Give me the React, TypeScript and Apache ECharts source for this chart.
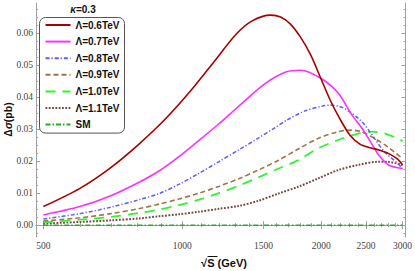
import React, { useEffect, useRef } from "react";
import * as echarts from "echarts";

// sqrt(S) in GeV and delta sigma in pb
const S_06 = [500, 600, 700, 808, 921, 1046, 1180, 1305, 1417, 1553, 1633, 1715, 1802, 1894, 1990, 2091, 2197, 2309, 2426, 2550, 2679, 2815, 2928, 3000];
const V_06 = [0.0058, 0.0115, 0.018, 0.0255, 0.0333, 0.0422, 0.0516, 0.0595, 0.0638, 0.0656, 0.065, 0.0628, 0.0588, 0.0534, 0.0463, 0.0391, 0.0331, 0.0281, 0.0253, 0.0242, 0.0234, 0.0222, 0.0206, 0.0188];

const S_07 = [500, 600, 700, 808, 892, 985, 1087, 1199, 1268, 1370, 1514, 1681, 1804, 2000, 2178, 2327, 2453, 2558, 2664, 2799, 3000];
const V_07 = [0.0032, 0.0058, 0.0092, 0.0135, 0.017, 0.0215, 0.0265, 0.0316, 0.0347, 0.039, 0.0443, 0.0479, 0.0484, 0.0458, 0.0412, 0.0346, 0.0302, 0.026, 0.0219, 0.0188, 0.0177];

const S_08 = [500, 600, 700, 808, 892, 985, 1087, 1199, 1325, 1461, 1590, 1684, 1844, 2000, 2090, 2200, 2300, 2400, 2485, 2609, 2741, 2903, 3000];
const V_08 = [0.0019, 0.0036, 0.0056, 0.008, 0.0099, 0.0128, 0.0162, 0.0198, 0.0235, 0.0272, 0.0305, 0.0328, 0.0357, 0.0371, 0.0375, 0.037, 0.0355, 0.0335, 0.0313, 0.0271, 0.0229, 0.0198, 0.0177];

const S_09 = [500, 600, 700, 808, 892, 985, 1087, 1199, 1325, 1461, 1617, 1784, 1970, 2175, 2306, 2441, 2609, 2785, 3000];
const V_09 = [0.0013, 0.0023, 0.0036, 0.0052, 0.0066, 0.0082, 0.01, 0.0121, 0.0145, 0.0172, 0.0203, 0.0238, 0.0271, 0.0292, 0.0297, 0.0292, 0.0271, 0.0245, 0.0208];

const S_10 = [500, 600, 700, 808, 892, 985, 1087, 1199, 1325, 1461, 1617, 1784, 1970, 2175, 2362, 2567, 2741, 2976, 3000];
const V_10 = [0.0009, 0.0017, 0.0026, 0.0038, 0.0049, 0.0063, 0.008, 0.01, 0.0123, 0.0149, 0.0177, 0.0203, 0.024, 0.0266, 0.0283, 0.0292, 0.0287, 0.0266, 0.0262];

const S_11 = [500, 600, 700, 808, 892, 985, 1087, 1199, 1325, 1461, 1617, 1784, 1970, 2175, 2402, 2652, 2785, 3000];
const V_11 = [0.0005, 0.001, 0.0015, 0.0021, 0.0028, 0.0034, 0.0042, 0.0051, 0.006, 0.0076, 0.0099, 0.012, 0.0146, 0.0172, 0.0188, 0.0198, 0.0198, 0.0188];

const S_SM = [500, 3000];
const V_SM = [0.0, 0.0];

const NAMES = ["Λ=0.6TeV", "Λ=0.7TeV", "Λ=0.8TeV", "Λ=0.9TeV", "Λ=1.0TeV", "Λ=1.1TeV", "SM"];

// tick labels
const X_MAJOR = [500, 1000, 1500, 2000, 2500, 3000];
const X_MINOR = [600, 700, 800, 900, 1100, 1200, 1300, 1400, 1600, 1700, 1800, 1900, 2100, 2200, 2300, 2400, 2600, 2700, 2800, 2900];
const Y_MAJOR = [0, 0.01, 0.02, 0.03, 0.04, 0.05, 0.06];
const Y_MINOR = [-0.0025, 0.0025, 0.005, 0.0075, 0.0125, 0.015, 0.0175, 0.0225, 0.025, 0.0275, 0.0325, 0.035, 0.0375, 0.0425, 0.045, 0.0475, 0.0525, 0.055, 0.0575, 0.0625, 0.065, 0.0675];

const X_MIN = 482;
const X_MAX = 3045;
const Y_MIN = -0.0037;
const Y_MAX = 0.0694;

function pairs(s: number[], v: number[]) {
  return s.map((x, i) => [x, v[i]]);
}

export default function App() {
  const ref = useRef<HTMLDivElement>(null);
  useEffect(() => {
    const chart = echarts.init(ref.current!, null, { renderer: "svg" });
    const frame = "#a0a0a0";
    const labelFont = {
      fontFamily: "Liberation Serif",
      fontSize: 9.5,
      color: "#444",
    };
    const xAx = (pos: string, ticks: number[], len: number, label: boolean, line: boolean) => ({
      type: "log",
      logBase: 10,
      min: X_MIN,
      max: X_MAX,
      position: pos,
      axisLine: { show: line, lineStyle: { color: frame, width: 1 } },
      axisTick: { show: true, inside: true, length: len, customValues: ticks, lineStyle: { color: frame, width: 1 } },
      axisLabel: label
        ? { show: true, customValues: ticks, margin: 4, formatter: (v: number) => String(Math.round(v)), ...labelFont }
        : { show: false },
      splitLine: { show: false },
      minorTick: { show: false },
    });
    const yAx = (pos: string, ticks: number[], len: number, label: boolean, line: boolean) => ({
      type: "value",
      min: Y_MIN,
      max: Y_MAX,
      position: pos,
      axisLine: { show: line, lineStyle: { color: frame, width: 1 } },
      axisTick: { show: true, inside: true, length: len, customValues: ticks, lineStyle: { color: frame, width: 1 } },
      axisLabel: label
        ? { show: true, customValues: ticks, margin: 3, formatter: (v: number) => v.toFixed(2), ...labelFont }
        : { show: false },
      splitLine: { show: false },
      minorTick: { show: false },
    });

    const mk = (i: number, data: number[][], color: string, width: number, type: any, z = 2) => ({
      name: NAMES[i],
      type: "line",
      data,
      xAxisIndex: 0,
      yAxisIndex: 0,
      smooth: 0.3,
      showSymbol: false,
      symbol: "none",
      z,
      lineStyle: { color, width, type, cap: "butt" },
      itemStyle: { color },
    });

    chart.setOption({
      animation: false,
      backgroundColor: "#ffffff",
      grid: { left: 36, right: 7, top: 3, bottom: 34, containLabel: false },
      xAxis: [
        xAx("bottom", X_MAJOR, 4, true, true),
        xAx("bottom", X_MINOR, 2, false, false),
        xAx("top", X_MAJOR, 4, false, true),
        xAx("top", X_MINOR, 2, false, false),
      ],
      yAxis: [
        yAx("left", Y_MAJOR, 4, true, true),
        yAx("left", Y_MINOR, 2, false, false),
        yAx("right", Y_MAJOR, 4, false, true),
        yAx("right", Y_MINOR, 2, false, false),
      ],
      legend: {
        orient: "vertical",
        left: 39.5,
        top: 17.5,
        itemWidth: 25,
        itemHeight: 10,
        itemGap: 6.6,
        padding: [2.5, 5, 3.5, 5],
        borderColor: "#555",
        borderWidth: 1,
        borderRadius: 6,
        backgroundColor: "#fff",
        itemStyle: { opacity: 0 },
        textStyle: { fontFamily: "Liberation Sans", fontWeight: "bold", fontSize: 10, color: "#111" },
        data: NAMES,
      },
      series: [
        mk(0, pairs(S_06, V_06), "#a80000", 1.6, "solid", 8),
        mk(1, pairs(S_07, V_07), "#ff2eff", 1.6, "solid", 7),
        mk(2, pairs(S_08, V_08), "#5c5cff", 1.5, [4, 2, 1.2, 2], 6),
        mk(3, pairs(S_09, V_09), "#a5734a", 1.6, [5, 3], 5),
        mk(4, pairs(S_10, V_10), "#2ef52e", 1.8, [10, 7], 4),
        mk(5, pairs(S_11, V_11), "#7a4444", 2, [1.8, 1.5], 3),
        mk(6, pairs(S_SM, V_SM), "#1fb01f", 1.5, [5, 2, 1.5, 2], 2),
      ],
      graphic: [
        {
          type: "text",
          x: 83,
          y: 9.5,
          style: {
            text: "{i|κ}{b|=0.3}",
            align: "center",
            verticalAlign: "middle",
            rich: {
              i: { fontFamily: "Liberation Sans", fontWeight: "bold", fontStyle: "italic", fontSize: 10, fill: "#111" },
              b: { fontFamily: "Liberation Sans", fontWeight: "bold", fontSize: 10, fill: "#111" },
            },
          },
        },
        {
          type: "text",
          x: 7.5,
          y: 119.5,
          rotation: Math.PI / 2,
          style: {
            text: "{b|Δ}{i|σ}{b|(pb)}",
            align: "center",
            verticalAlign: "middle",
            rich: {
              i: { fontFamily: "Liberation Sans", fontWeight: "bold", fontStyle: "italic", fontSize: 10.5, fill: "#111" },
              b: { fontFamily: "Liberation Sans", fontWeight: "bold", fontSize: 10.5, fill: "#111" },
            },
          },
        },
        {
          type: "text",
          x: 224,
          y: 263,
          style: {
            text: "√S (GeV)",
            align: "center",
            verticalAlign: "middle",
            fontFamily: "Liberation Sans",
            fontWeight: "bold",
            fontSize: 11,
            fill: "#111",
          },
        },
        {
          type: "line",
          shape: { x1: 207.5, y1: 256.5, x2: 217.5, y2: 256.5 },
          style: { stroke: "#111", lineWidth: 1 },
        },
      ],
    });
    return () => chart.dispose();
  }, []);
  return (
    <div
      ref={ref}
      style={{ position: "absolute", left: 0, top: 0, width: 415, height: 271 }}
    />
  );
}
